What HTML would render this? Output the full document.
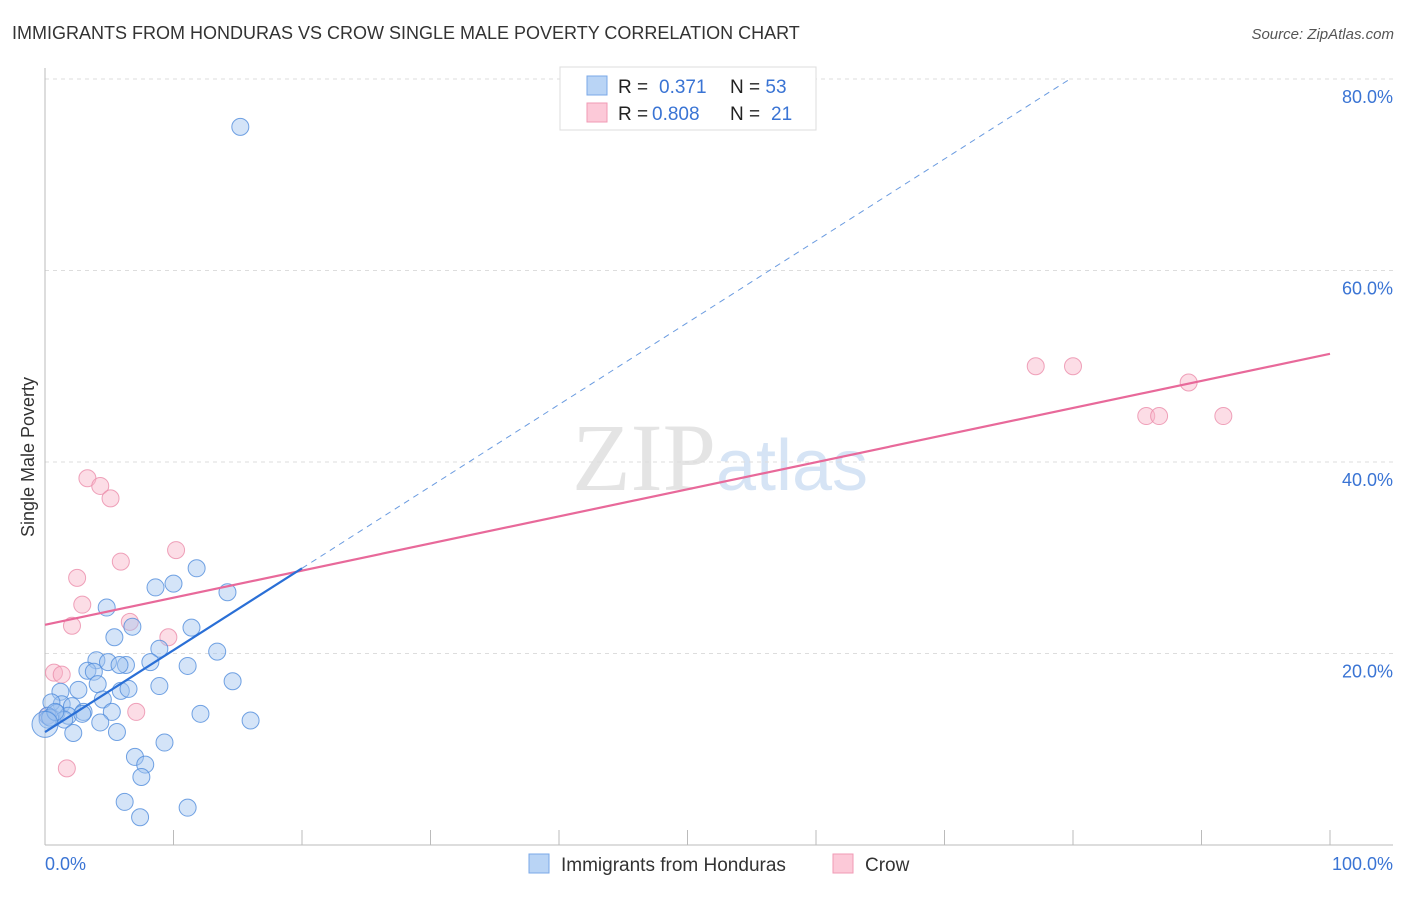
<!DOCTYPE html>
<html><head><meta charset="utf-8"><style>
body{margin:0;background:#fff;font-family:"Liberation Sans",sans-serif}
</style></head><body>
<svg id="chart" width="1406" height="892" xmlns="http://www.w3.org/2000/svg" font-family="Liberation Sans, sans-serif">
<text x="12" y="39" font-size="18" fill="#333">IMMIGRANTS FROM HONDURAS VS CROW SINGLE MALE POVERTY CORRELATION CHART</text>
<text x="1394" y="39" font-size="15" fill="#555" text-anchor="end" font-style="italic">Source: ZipAtlas.com</text>
<text x="720" y="490" font-size="96" text-anchor="middle" fill="#e4e4e4" font-family="Liberation Serif, serif">ZIP<tspan fill="#d6e4f5" font-family="Liberation Sans, sans-serif" font-size="72">atlas</tspan></text>
<text transform="translate(34,457) rotate(-90)" font-size="18" fill="#333" text-anchor="middle">Single Male Poverty</text>
<g id="grid"></g><g id="axes"></g><g id="marks"></g>
<g>
<rect x="560" y="67" width="256" height="63" fill="#fff" stroke="#ddd"/>
<rect x="587" y="76" width="20" height="19" fill="#b9d4f5" stroke="#7aa8e8"/>
<rect x="587" y="103" width="20" height="19" fill="#fcc9d8" stroke="#f09ab5"/>
<text x="618" y="93" font-size="19" fill="#222">R = <tspan fill="#3a74d4" x="659">0.371</tspan><tspan fill="#222" x="730">N = </tspan><tspan fill="#3a74d4">53</tspan></text>
<text x="618" y="120" font-size="19" fill="#222">R = <tspan fill="#3a74d4" x="652">0.808</tspan><tspan fill="#222" x="730">N = </tspan><tspan fill="#3a74d4" x="771">21</tspan></text>
</g>
<g>
<rect x="529" y="854" width="20" height="19" fill="#b9d4f5" stroke="#7aa8e8"/>
<text x="561" y="871" font-size="19" fill="#333">Immigrants from Honduras</text>
<rect x="833" y="854" width="20" height="19" fill="#fcc9d8" stroke="#f09ab5"/>
<text x="865" y="871" font-size="19" fill="#333">Crow</text>
</g>
</svg>
<script>
const blueX=[15.2,8.6,10.0,11.8,14.2,4.8,6.8,5.4,11.4,8.9,13.4,4.0,4.9,6.3,8.2,3.3,5.8,11.1,3.8,4.1,2.6,1.2,8.9,14.6,5.9,6.5,4.5,1.3,0.5,2.1,3.0,5.2,12.1,0.9,0.2,1.8,4.3,1.5,16.0,2.2,5.6,0.2,9.3,7.0,7.8,7.5,6.2,11.1,7.4,0.4,0.8,0.0,2.9];
const blueY=[75.0,26.9,27.3,28.9,26.4,24.8,22.8,21.7,22.7,20.5,20.2,19.3,19.1,18.8,19.1,18.2,18.8,18.7,18.1,16.8,16.2,16.0,16.6,17.1,16.1,16.3,15.2,14.7,14.9,14.5,13.9,13.9,13.7,13.8,13.5,13.5,12.8,13.1,13.0,11.7,11.8,13.1,10.7,9.2,8.4,7.1,4.5,3.9,2.9,13.3,13.9,12.6,13.7];
const pinkX=[0.7,1.3,1.7,2.5,2.9,2.1,3.3,4.3,5.1,5.9,10.2,6.6,9.6,7.1,77.1,80.0,89.0,85.7,86.7,91.7,0.2];
const pinkY=[18.0,17.8,8.0,27.9,25.1,22.9,38.3,37.5,36.2,29.6,30.8,23.3,21.7,13.9,50.0,50.0,48.3,44.8,44.8,44.8,13.5];
const blueTrend=[11.8,0.855]; // intercept, slope
const pinkTrend=[23.0,0.283];
const yTicks=[20,40,60,80];
const yTickLabels=["20.0%","40.0%","60.0%","80.0%"];
const xTicks=[0,10,20,30,40,50,60,70,80,90,100];
const xEndLabels=["0.0%","100.0%"];
const NS="http://www.w3.org/2000/svg";
const X=v=>45+v*12.85, Y=v=>845-v*9.575;
function mk(p,t,a){const e=document.createElementNS(NS,t);for(const k in a)e.setAttribute(k,a[k]);p.appendChild(e);return e;}
const grid=document.getElementById('grid'),axes=document.getElementById('axes'),marks=document.getElementById('marks');
yTicks.forEach((t,i)=>{
 const l=mk(grid,'line',{x1:45,x2:1393,y1:Y(t),y2:Y(t),stroke:'#ddd','stroke-dasharray':'4,4'});
 
 
 const tx=mk(grid,'text',{x:1393,y:Y(t)+24,'font-size':18,fill:'#3a74d4','text-anchor':'end'});
 tx.textContent=yTickLabels[i];
 
 
});
const ya=mk(axes,'line',{x1:45,x2:45,y1:68,y2:845,stroke:'#bbb'});


const xa=mk(axes,'line',{x1:45,x2:1393,y1:845,y2:845,stroke:'#bbb'});


xTicks.forEach(t=>{
 const l=mk(axes,'line',{x1:X(t),x2:X(t),y1:830,y2:845,stroke:'#bbb'});
 
 
});
[[0,'start',45],[100,'end',1393]].forEach((d,i)=>{
 const tx=mk(axes,'text',{x:d[2],y:870,'font-size':18,fill:'#3a74d4','text-anchor':d[1]});
 tx.textContent=xEndLabels[i];
 
 
});
pinkX.forEach((x,i)=>{
 const c=mk(marks,'circle',{cx:X(x),cy:Y(pinkY[i]),r:8.5,fill:'rgba(248,180,200,0.45)',stroke:'rgba(235,140,170,0.8)','stroke-width':1});
 
 
});
blueX.forEach((x,i)=>{
 const c=mk(marks,'circle',{cx:X(x),cy:Y(blueY[i]),r:(i==51?13:8.5),fill:'rgba(160,196,240,0.45)',stroke:'rgba(80,140,220,0.8)','stroke-width':1});
 
 
});
const pl=mk(marks,'line',{x1:X(0),y1:Y(pinkTrend[0]),x2:X(100),y2:Y(pinkTrend[0]+pinkTrend[1]*100),stroke:'#e8699a','stroke-width':2.2});


const bl=mk(marks,'line',{x1:X(0),y1:Y(blueTrend[0]),x2:X(20),y2:Y(blueTrend[0]+blueTrend[1]*20),stroke:'#2a6fd6','stroke-width':2.2});


const xe=(80-blueTrend[0])/blueTrend[1];
const bd=mk(marks,'line',{x1:X(20),y1:Y(blueTrend[0]+blueTrend[1]*20),x2:X(xe),y2:Y(80),stroke:'#6a9be0','stroke-width':1,'stroke-dasharray':'6,5'});


</script>
</body></html>
